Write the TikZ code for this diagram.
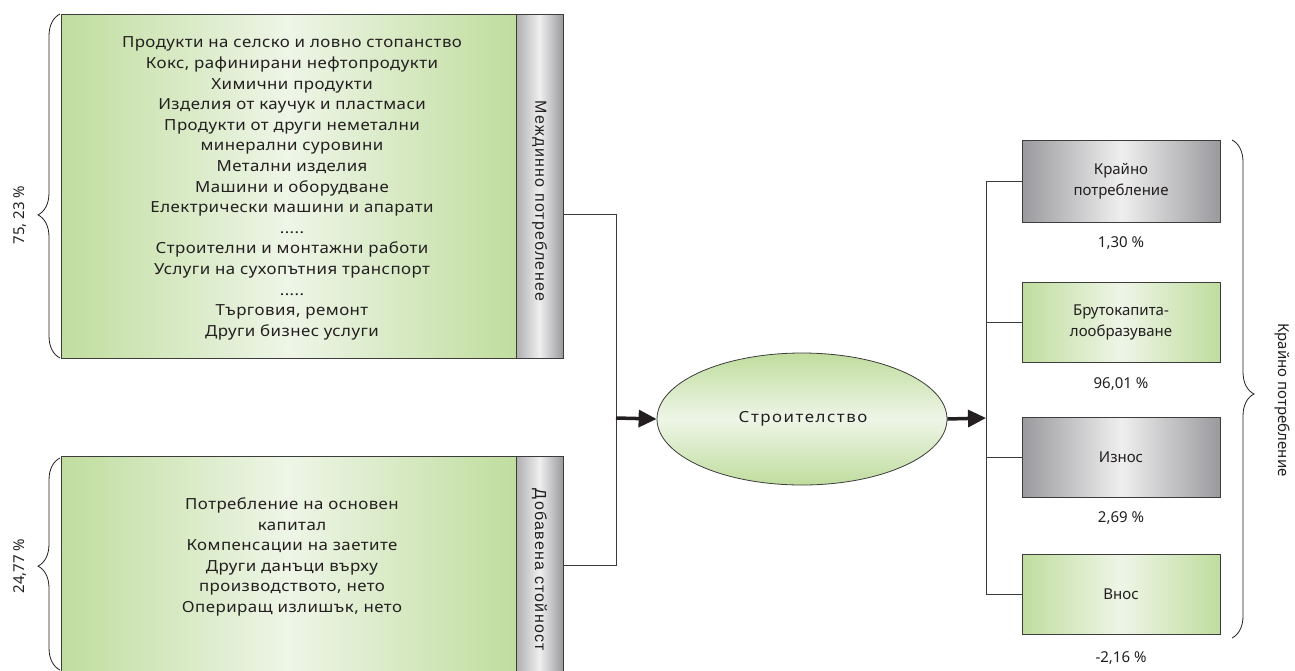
\documentclass[tikz,border=0pt]{standalone}
\usepackage{fontspec}
\setmainfont{Noto Sans}
\newfontfamily\widef{Noto Sans}[FakeStretch=1.1,LetterSpace=3]
\newfontfamily\spacedf{Noto Sans}[FakeStretch=1.1,LetterSpace=10]
\newfontfamily\arialf{Liberation Sans}[LetterSpace=8]
\usetikzlibrary{arrows.meta,shapes.geometric,decorations.pathreplacing}
\definecolor{gedge}{HTML}{C0DD9E}
\definecolor{gmid}{HTML}{EEF5E7}
\definecolor{gyedge}{HTML}{9A9A9E}
\definecolor{gymid}{HTML}{EFEFEF}
\definecolor{ink}{HTML}{231F20}
\definecolor{frame}{HTML}{3C3C3C}
\begin{document}
\begin{tikzpicture}[x=1pt,y=-1pt,
  txt/.style={font=\widef\fontsize{15.3}{20.6}\selectfont, text=ink, align=center, inner sep=0pt},
  rtxt/.style={font=\fontsize{15}{21}\selectfont, text=ink, align=center, inner sep=0pt},
  greenbox/.style={draw=frame, line width=0.8pt, left color=gedge, right color=gedge, middle color=gmid, inner sep=0pt, minimum width=#1},
  graybar/.style={draw=frame, line width=0.8pt, left color=gyedge!80, right color=gyedge, middle color=gymid, inner sep=0pt, minimum width=47pt},
  graybox/.style={draw=frame, line width=0.8pt, left color=gyedge, right color=gyedge, middle color=gymid, minimum width=198pt, inner sep=0pt},
  barlabel/.style={font=\arialf\fontsize{16}{18}\selectfont, text=ink, rotate=-90},
  conn/.style={draw=frame, line width=0.8pt},
  bigarrow/.style={draw=ink, line width=3.5pt, -{Triangle[length=18pt,width=17pt]}},
  brace/.style={draw=ink, line width=0.8pt, decorate, decoration={brace, amplitude=#1}},
  pct/.style={font=\fontsize{15}{17}\selectfont, text=ink}
]
\useasboundingbox (0,0) rectangle (1295,670);

% top left block
\node[greenbox=455pt, minimum height=344pt] (topbox) at (288.5,186) {};
\node[txt] (toptext) at (292,188.5) {Продукти на селско и ловно стопанство\\Кокс, рафинирани нефтопродукти\\Химични продукти\\Изделия от каучук и пластмаси\\Продукти от други неметални\\минерални суровини\\Метални изделия\\Машини и оборудване\\Електрически машини и апарати\\.....\\Строителни и монтажни работи\\Услуги на сухопътния транспорт\\.....\\Търговия, ремонт\\Други бизнес услуги};
\node[graybar, minimum height=344pt] (topbar) at (539.5,186) {};
\node[barlabel] (toplabel) at (539.5,201) {Междинно потребленее};

% bottom left block
\node[greenbox=455pt, minimum height=216pt] (botbox) at (288.5,564) {};
\node[txt] (bottext) at (292,557) {Потребление на основен\\капитал\\Компенсации на заетите\\Други данъци върху\\производството, нето\\Опериращ излишък, нето};
\node[graybar, minimum height=216pt] (botbar) at (539.5,564) {};
\node[barlabel] (botlabel) at (539.5,570) {Добавена стойност};

% left braces
\coordinate (b1s) at (60,358);
\coordinate (b1e) at (60,14);
\draw[brace=22pt, decoration={aspect=0.416}] (b1s) -- (b1e);
\node[pct, rotate=90] (p1) at (20,215) {75, 23 \%};
\coordinate (b2s) at (60,670);
\coordinate (b2e) at (60,458);
\draw[brace=22pt, decoration={aspect=0.49}] (b2s) -- (b2e);
\node[pct, rotate=90] (p2) at (20,566) {24,77 \%};

% joining connector
\coordinate (j1) at (616,214);
\coordinate (j2) at (616,565);
\coordinate (j3) at (616,418);
\draw[conn] (topbar.east |- j1) -- (j1) -- (j2) -- (botbar.east |- j2);

% ellipse
\node[ellipse, draw=frame, line width=0.8pt, minimum width=290pt, minimum height=132pt, inner sep=0pt,
  top color=gedge, bottom color=gedge, middle color=gmid] (build) at (802,419) {};
\node[txt, font=\spacedf\fontsize{15.3}{20.6}\selectfont] (buildtext) at (803,419) {Строителство};
\draw[bigarrow] (j3) -- (build.west);

% right side
\coordinate (r0) at (986,418);
\draw[bigarrow] (build.east) -- (r0);

\node[graybox, minimum height=82pt] (k1) at (1121,181) {};
\node[rtxt] (k1t) at (k1) {Крайно\\потребление};
\node[greenbox=198pt, minimum height=80pt] (k2) at (1121,322) {};
\node[rtxt] (k2t) at (k2) {Брутокапита-\\лообразуване};
\node[graybox, minimum height=80pt] (k3) at (1121,457) {};
\node[rtxt] (k3t) at (k3) {Износ};
\node[greenbox=198pt, minimum height=80pt] (k4) at (1121,594) {};
\node[rtxt] (k4t) at (k4) {Внос};

\coordinate (v1) at (986,181);
\coordinate (v4) at (986,594);
\draw[conn] (k1.west) -- (v1) -- (v4) -- (k4.west);
\draw[conn] (k2.west) -- (k2.west -| v1);
\draw[conn] (k3.west) -- (k3.west -| v1);

\node[pct] (q1) at (1121,243) {1,30 \%};
\node[pct] (q2) at (1121,384) {96,01 \%};
\node[pct] (q3) at (1121,518) {2,69 \%};
\node[pct] (q4) at (1121,658) {-2,16 \%};

\coordinate (b3s) at (1232,140);
\coordinate (b3e) at (1232,638);
\draw[brace=22pt, decoration={aspect=0.51}] (b3s) -- (b3e);
\node[pct, rotate=-90] (p3) at (1282,400) {Крайно потребление};
\end{tikzpicture}
\end{document}
